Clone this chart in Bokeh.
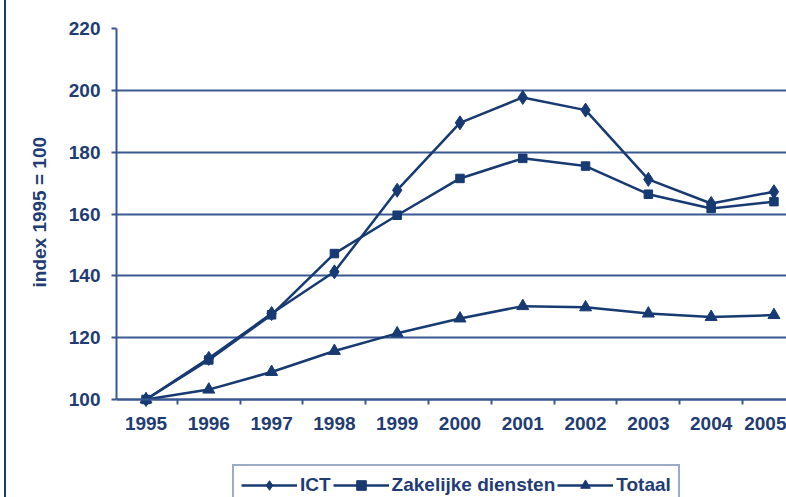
from bokeh.plotting import figure
from bokeh.models import (FixedTicker, Range1d, Legend, LegendItem, Title)
from bokeh.embed import file_html
from bokeh.resources import INLINE

years = [1995, 1996, 1997, 1998, 1999, 2000, 2001, 2002, 2003, 2004, 2005]
ict = [100, 113.3, 127.8, 141.3, 167.7, 189.5, 197.7, 193.6, 171.2, 163.4, 167.2]
zakelijke = [100, 112.8, 127.4, 147.2, 159.6, 171.5, 178.0, 175.5, 166.4, 161.8, 164.0]
totaal = [100, 103.2, 108.9, 115.7, 121.4, 126.2, 130.2, 129.8, 127.8, 126.7, 127.3]
y_ticks = [100, 120, 140, 160, 180, 200, 220]
series_names = ["ICT", "Zakelijke diensten", "Totaal"]
y_title = "index 1995 = 100"

NAVY = "#173a72"
GRID = "#3a5890"
TEXT = "#1f3c73"
FONT = "Liberation Sans"
FS = "19px"

# frame spans from y=28 (220) to the bottom of the figure; value 100 sits at y=399
Y_BOTTOM = 100 - (497 - 399) * 120 / (399 - 28)

p = figure(width=786, height=497, output_backend="svg", toolbar_location=None,
           x_range=Range1d(1994.53, 2005.2), y_range=Range1d(Y_BOTTOM, 220),
           min_border_left=116, min_border_top=28, min_border_right=0,
           min_border_bottom=0)
p.outline_line_color = None
p.background_fill_color = "white"
p.border_fill_alpha = 0
p.styles = {"background": "linear-gradient(to right, white 0px, white 4px, #1c3b74 4px, "
                          "#1c3b74 6px, white 6px, white 100%)"}

# axes
xa = p.xaxis[0]
xa.fixed_location = 100
xa.ticker = FixedTicker(ticks=years, minor_ticks=[y + 0.5 for y in years[:-1]])
xa.major_label_overrides = {y: str(y) for y in years}
xa.major_tick_out = 0
xa.major_tick_in = 0
xa.minor_tick_out = 5
xa.minor_tick_in = 0
xa.minor_tick_line_color = GRID
xa.minor_tick_line_width = 2
xa.axis_line_color = GRID
xa.axis_line_width = 2
xa.major_label_standoff = 12
xa.major_label_text_font = FONT
xa.major_label_text_font_size = FS
xa.major_label_text_font_style = "bold"
xa.major_label_text_color = TEXT

ya = p.yaxis[0]
ya.bounds = (100, 220)
ya.ticker = FixedTicker(ticks=y_ticks, minor_ticks=[])
ya.major_tick_out = 5
ya.major_tick_in = 0
ya.major_tick_line_color = GRID
ya.major_tick_line_width = 2
ya.axis_line_color = GRID
ya.axis_line_width = 2
ya.major_label_standoff = 11
ya.major_label_text_font = FONT
ya.major_label_text_font_size = FS
ya.major_label_text_font_style = "bold"
ya.major_label_text_color = TEXT

# y-axis title, placed alongside the 100-220 part of the axis
p.add_layout(Title(text=y_title, align="left", offset=210, standoff=32,
                   vertical_align="bottom", text_font=FONT, text_font_size=FS,
                   text_font_style="bold", text_color=TEXT), "left")

p.xgrid.grid_line_color = None
p.ygrid.grid_line_color = GRID
p.ygrid.grid_line_width = 2
p.ygrid.ticker = FixedTicker(ticks=y_ticks)

# series
l1 = p.line(years, ict, line_color=NAVY, line_width=2.5)
s1 = p.scatter(years, ict, marker="diamond", size=14, fill_color=NAVY, line_color=NAVY)
l2 = p.line(years, zakelijke, line_color=NAVY, line_width=2.5)
s2 = p.scatter(years, zakelijke, marker="square", size=8.5, fill_color=NAVY, line_color=NAVY)
l3 = p.line(years, totaal, line_color=NAVY, line_width=2.5)
s3 = p.scatter(years, totaal, marker="triangle", size=12, fill_color=NAVY, line_color=NAVY)

legend = Legend(items=[LegendItem(label=series_names[0], renderers=[l1, s1]),
                       LegendItem(label=series_names[1], renderers=[l2, s2]),
                       LegendItem(label=series_names[2], renderers=[l3, s3])],
                orientation="horizontal", location=(116, -9))
legend.glyph_width = 56
legend.glyph_height = 24
legend.label_standoff = 3
legend.spacing = 2
legend.padding = 7
legend.margin = 0
legend.label_text_font = FONT
legend.label_text_font_size = FS
legend.label_text_font_style = "bold"
legend.label_text_color = TEXT
legend.border_line_color = GRID
legend.border_line_width = 2
legend.background_fill_color = "white"
p.add_layout(legend, "center")

open("out.html", "w").write(file_html(p, INLINE))
